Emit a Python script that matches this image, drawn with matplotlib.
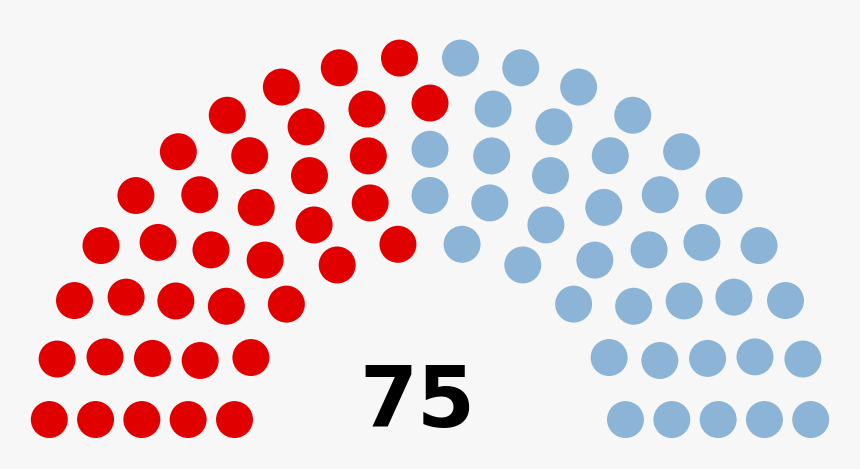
import numpy as np
import matplotlib.pyplot as plt
from matplotlib.patches import Circle

# Parliament seats
parties = ['Red', 'Blue']
seats = [37, 38]
colors = ['#e00000', '#8cb4d6']
row_seats = [10, 13, 15, 17, 20]   # inner -> outer
total = sum(seats)

# arch geometry (same as the usual parliament diagram tool), in units
rows = len(row_seats)
dot_r = 0.4 / rows
unit = 231          # px per unit
cx, cy = 430, 438   # centre in px

pos = []
for i, n in enumerate(row_seats, start=1):
    R = (3.0 * rows + 4.0 * i - 2.0) / (4.0 * rows)
    off = np.sin(dot_r / R)
    for j in range(n):
        a = j * (np.pi - 2 * off) / (n - 1) + off
        pos.append((round(a, 6), R))
# left to right, outer row first on ties
pos.sort(key=lambda p: (-p[0], -p[1]))

seat_colors = []
for s, c in zip(seats, colors):
    seat_colors += [c] * s

fig = plt.figure(figsize=(8.6, 4.69), dpi=100)
fig.patch.set_facecolor('#f7f7f7')
ax = fig.add_axes([0, 0, 1, 1])
ax.set_facecolor('#f7f7f7')
for (a, R), c in zip(pos, seat_colors):
    x = cx + unit * R * np.cos(a)
    y = cy - unit * R * np.sin(a)
    ax.add_patch(Circle((x, y), unit * dot_r, color=c, lw=0))

ax.text(417, 427, str(total), fontsize=60, fontweight='bold',
        ha='center', va='baseline', color='black')

ax.set_xlim(0, 860)
ax.set_ylim(469, 0)
ax.set_aspect('equal')
ax.axis('off')
fig.savefig('out.png', dpi=100, facecolor=fig.get_facecolor())
